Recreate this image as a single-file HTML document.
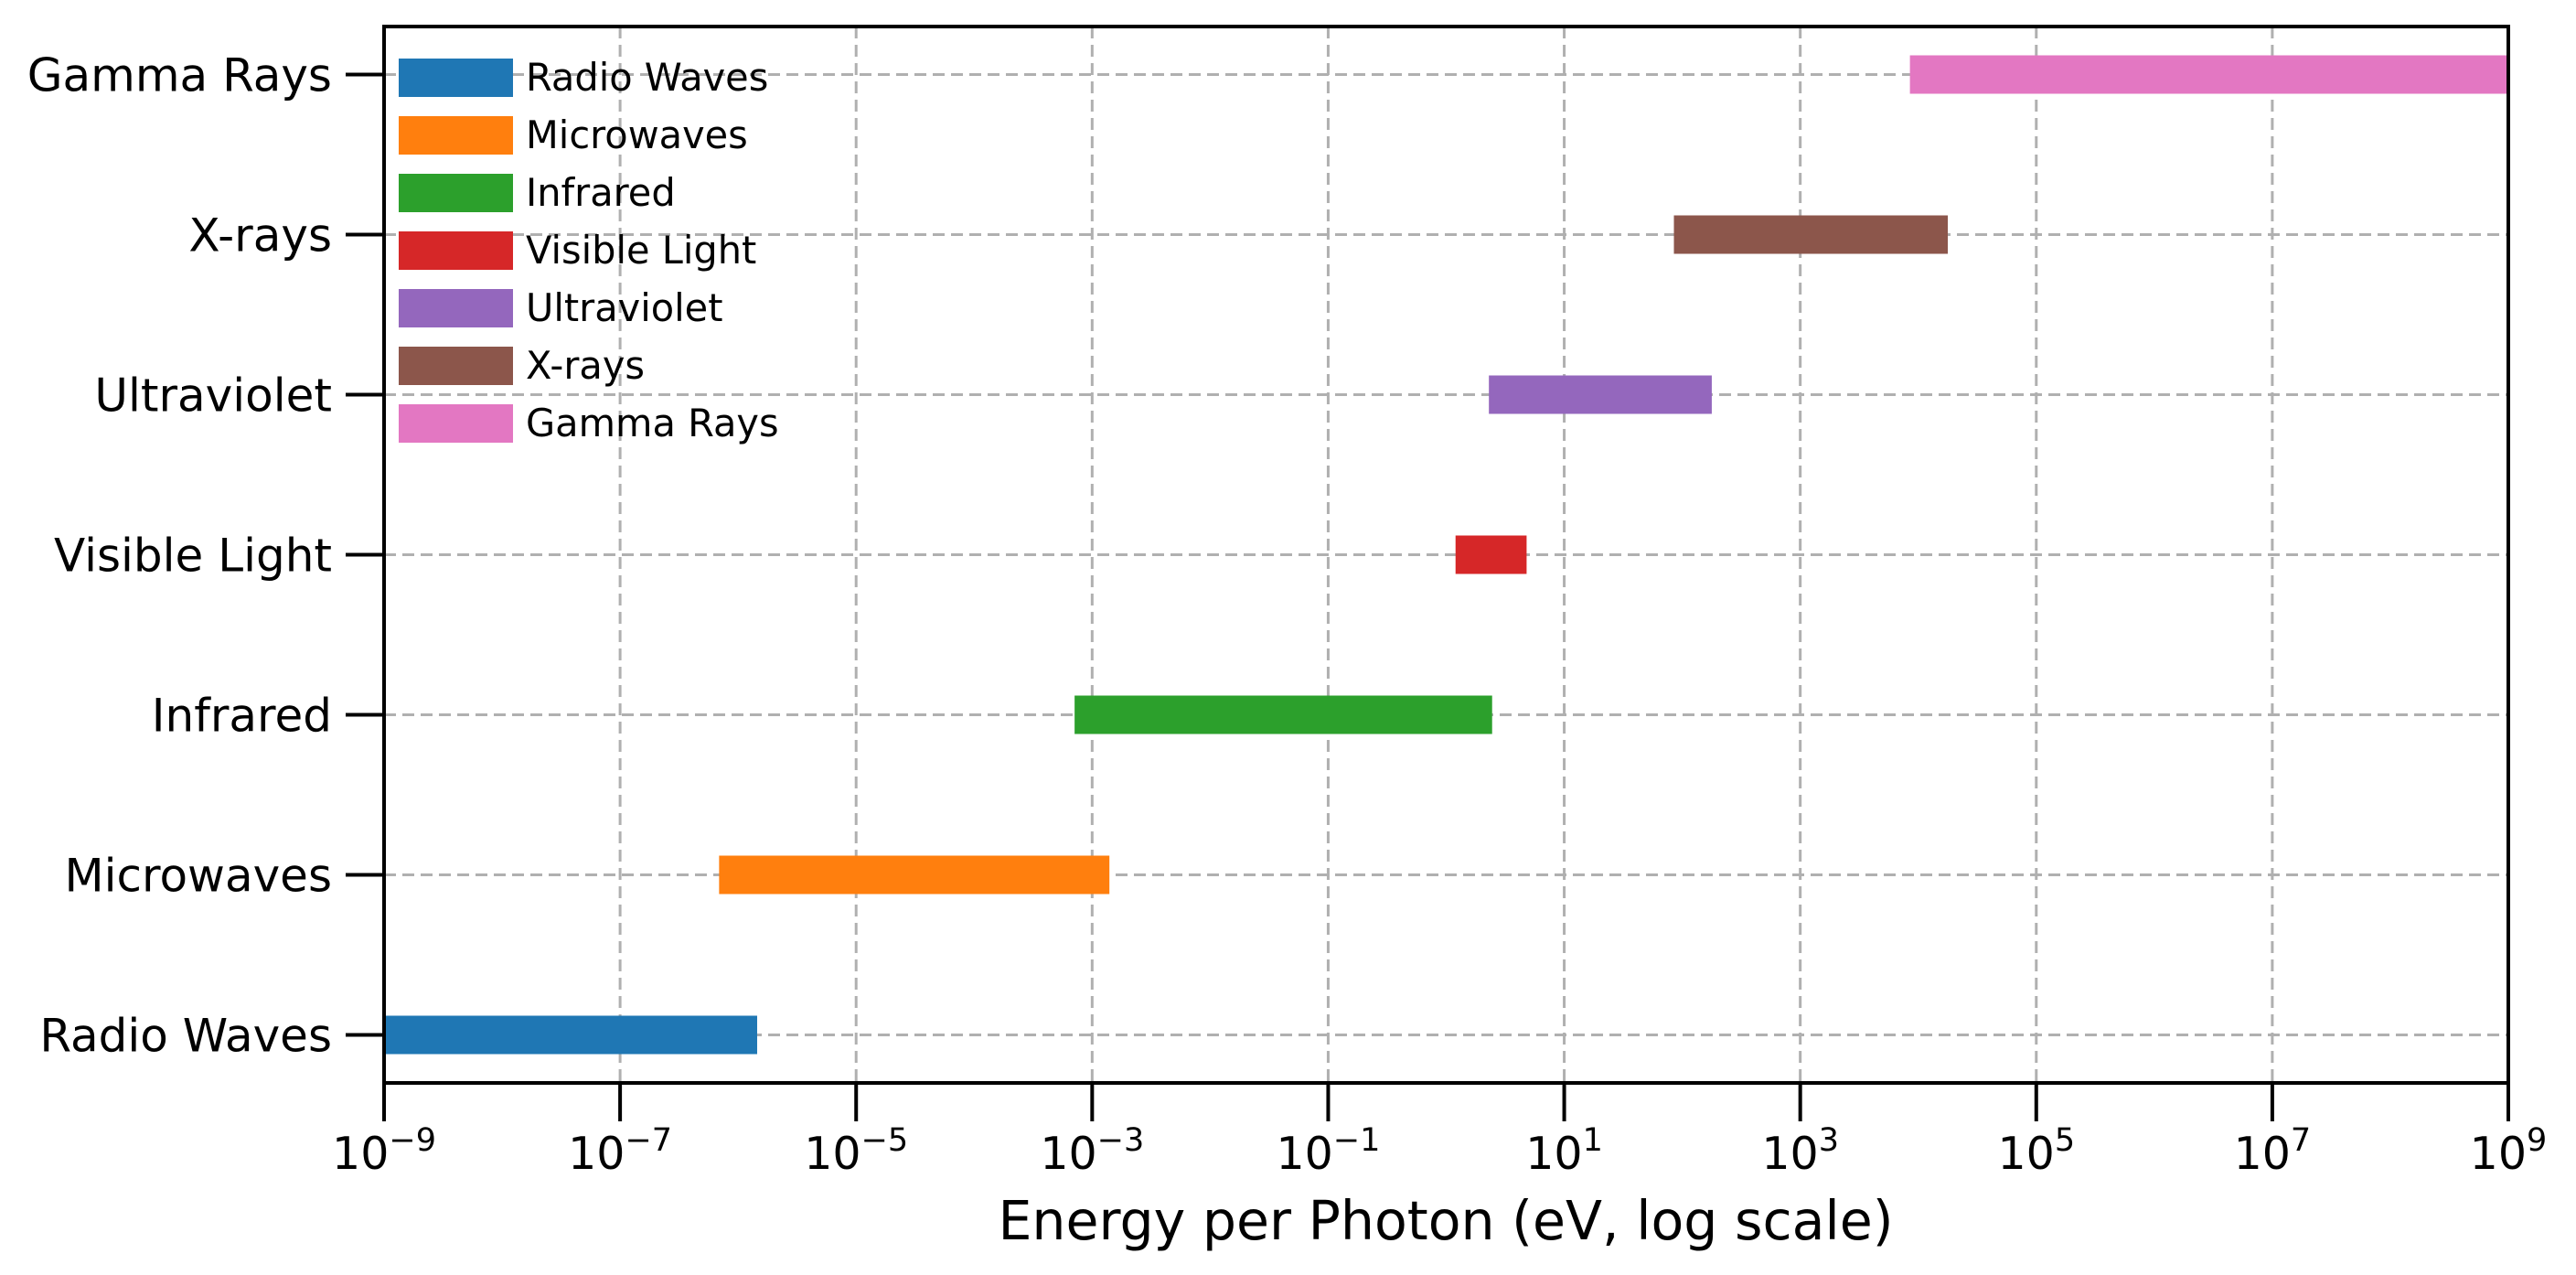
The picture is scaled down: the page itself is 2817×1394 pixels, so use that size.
<!DOCTYPE html>
<html><head><meta charset="utf-8"><style>
html,body{margin:0;padding:0;background:#fff}
svg{display:block;font-family:"DejaVu Sans","Liberation Sans",sans-serif}
</style></head><body>
<svg id="chart" width="2817" height="1394" viewBox="0 0 2817 1394" xmlns="http://www.w3.org/2000/svg">
<rect width="2817" height="1394" fill="#fff"/>
<g id="grid"></g>
<g id="bars"></g>
<g id="axes"></g>
<g id="legend"></g>
<text x="1581" y="1355" text-anchor="middle" font-size="58.5" fill="#000">Energy per Photon (eV, log scale)</text>
</svg>
<script>
const categories = ["Radio Waves","Microwaves","Infrared","Visible Light","Ultraviolet","X-rays","Gamma Rays"];
const startEV = [1e-9, 6.9e-7, 7.1e-4, 1.2, 2.3, 85, 8500];
const endEV = [1.45e-6, 1.4e-3, 2.45, 4.8, 178, 17800, 1e9];
const colors = ["#1f77b4","#ff7f0e","#2ca02c","#d62728","#9467bd","#8c564b","#e377c2"];
const xTickExps = [-9,-7,-5,-3,-1,1,3,5,7,9];

const NS="http://www.w3.org/2000/svg";
const L=420,R=2743,T=29,B=1184;
const xMin=-9,xMax=9,yMin=-0.3,yMax=6.3,barH=0.24;
function xs(v){const lv=Math.log10(v);const c=Math.max(xMin,Math.min(xMax,lv));return L+(c-xMin)/(xMax-xMin)*(R-L);}
function xe(e){return L+(e-xMin)/(xMax-xMin)*(R-L);}
function ys(i){return B-(i-yMin)/(yMax-yMin)*(B-T);}
function mk(tag,attrs,parent){const el=document.createElementNS(NS,tag);for(const k in attrs)el.setAttribute(k,attrs[k]);parent.appendChild(el);return el;}
const grid=document.getElementById('grid'),bars=document.getElementById('bars'),axes=document.getElementById('axes'),legend=document.getElementById('legend');

xTickExps.forEach(e=>{const x=xe(e);
 const g=mk('line',{x1:x,x2:x,y1:T,y2:B,stroke:'#b0b0b0','stroke-width':3,'stroke-dasharray':'13,7'},grid);
 
 
});
categories.forEach((c,i)=>{const y=ys(i);
 const g=mk('line',{x1:L,x2:R,y1:y,y2:y,stroke:'#b0b0b0','stroke-width':3,'stroke-dasharray':'13,7'},grid);
 
 
});
categories.forEach((c,i)=>{const x1=xs(startEV[i]),x2=xs(endEV[i]);const y=ys(i);
 const r=mk('rect',{x:x1,y:y-(ys(0)-ys(barH))/2,width:Math.max(0,x2-x1),height:ys(0)-ys(barH),fill:colors[i]},bars);
 
 
});
const fr=mk('rect',{x:L,y:T,width:R-L,height:B-T,fill:'none',stroke:'#000','stroke-width':4},axes);


xTickExps.forEach(e=>{const x=xe(e);
 const t=mk('line',{x1:x,x2:x,y1:B,y2:B+42,stroke:'#000','stroke-width':4},axes);
 
 
 const tx=mk('text',{x:x,y:1278,'text-anchor':'middle','font-size':49,fill:'#000'},axes);
 
 
 const a=document.createElementNS(NS,'tspan');a.textContent='10';tx.appendChild(a);
 const b=document.createElementNS(NS,'tspan');b.setAttribute('font-size','35');b.setAttribute('dy','-20');
 b.textContent=(e<0?'\u2212':'')+Math.abs(e);tx.appendChild(b);
});
categories.forEach((c,i)=>{const y=ys(i);
 const t=mk('line',{x1:L-42,x2:L,y1:y,y2:y,stroke:'#000','stroke-width':4},axes);
 
 
 const tx=mk('text',{x:363,y:y+18,'text-anchor':'end','font-size':50,fill:'#000'},axes);
 
 
 tx.textContent=c;
});
categories.forEach((c,i)=>{const y=64+i*63;
 const h=mk('rect',{x:436,y:y,width:125,height:42,fill:colors[i]},legend);
 
 
 const tx=mk('text',{x:575,y:y+35,'font-size':41.5,fill:'#000'},legend);
 
 
 tx.textContent=c;
});
</script>
</body></html>
